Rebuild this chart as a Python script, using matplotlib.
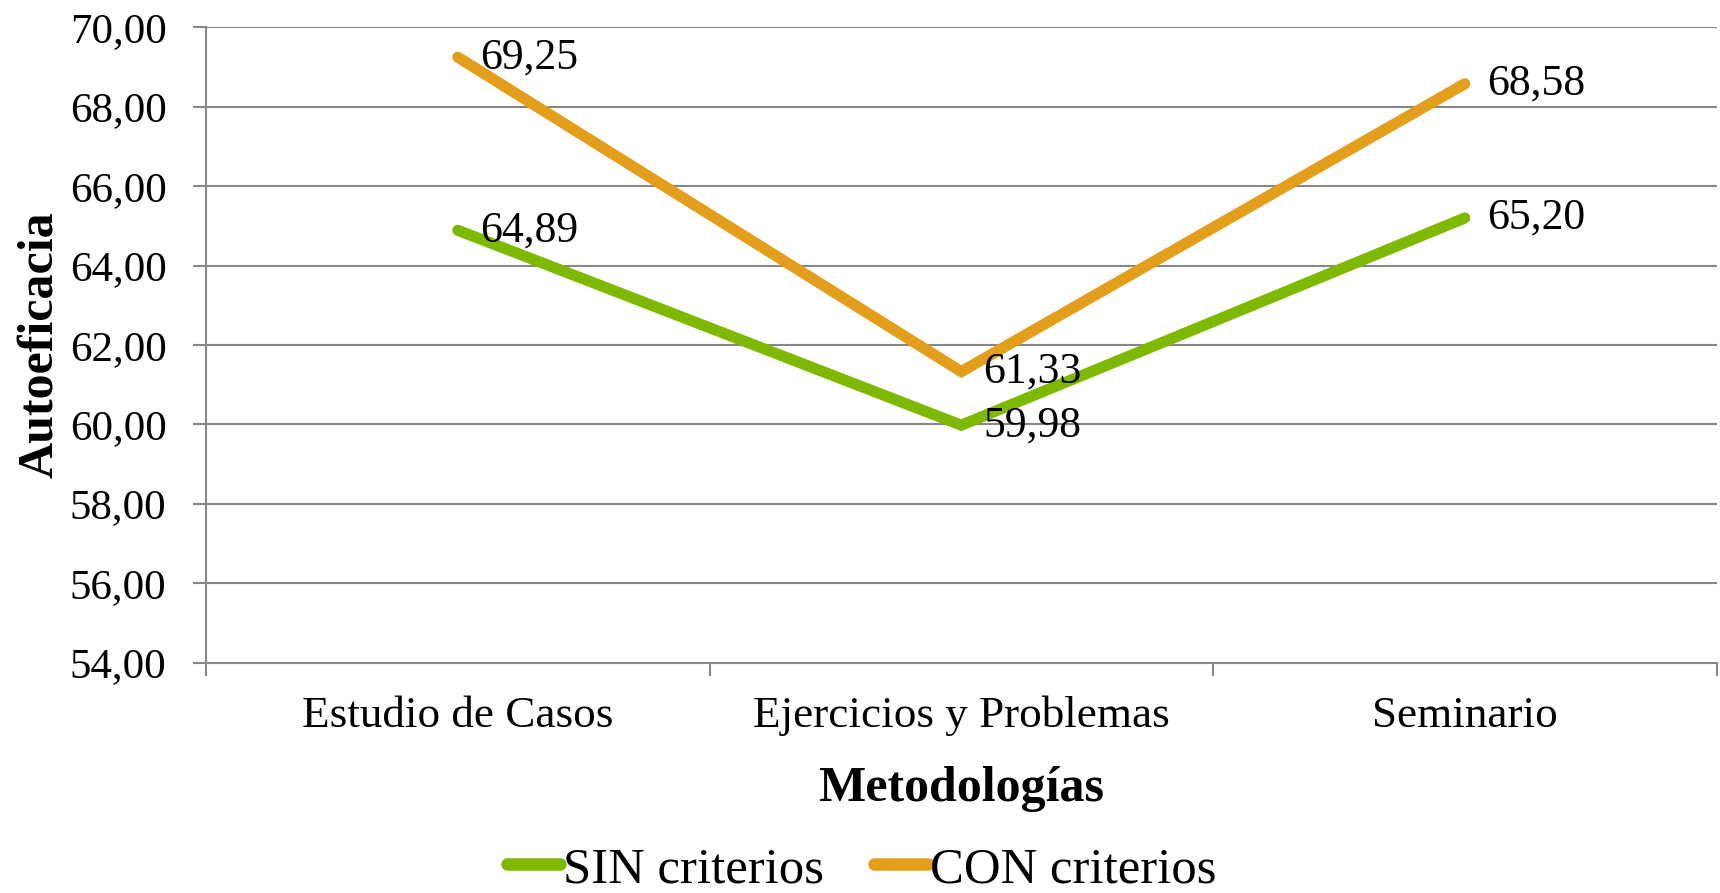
import matplotlib
matplotlib.use("Agg")
import matplotlib.pyplot as plt
from matplotlib.ticker import FixedLocator, NullFormatter, FuncFormatter

metodologias = ["Estudio de Casos", "Ejercicios y Problemas", "Seminario"]
sin_criterios = [64.89, 59.98, 65.20]
con_criterios = [69.25, 61.33, 68.58]
y_ticks = [54, 56, 58, 60, 62, 64, 66, 68, 70]

verde = "#7FB800"
naranja = "#E39E1C"
gris = "#878787"

plt.rcParams["font.family"] = ["Liberation Serif", "DejaVu Serif"]

fig = plt.figure(figsize=(17.2, 8.93), dpi=100)
ax = fig.add_axes([0.1198, 0.258, 0.998 - 0.1198, 0.9693 - 0.258])

x = list(range(len(metodologias)))
ax.plot(x, sin_criterios, color=verde, lw=8, solid_capstyle="round",
        solid_joinstyle="miter", label="SIN criterios", zorder=3)
ax.plot(x, con_criterios, color=naranja, lw=8, solid_capstyle="round",
        solid_joinstyle="miter", label="CON criterios", zorder=3)

def fmt(v):
    return f"{v:.2f}".replace(".", ",")

for serie in (sin_criterios, con_criterios):
    for xi, v in zip(x, serie):
        ax.annotate(fmt(v), (xi, v), xytext=(16, 0), textcoords="offset points",
                    ha="left", va="center", fontsize=31.5, zorder=4)

ax.set_xlim(-0.5, len(metodologias) - 0.5)
ax.set_ylim(y_ticks[0], y_ticks[-1])
ax.set_yticks(y_ticks)
ax.yaxis.set_major_formatter(FuncFormatter(lambda v, p: fmt(v)))
ax.grid(axis="y", color=gris, lw=1.5)
ax.set_axisbelow(True)

# limites de categoria como ticks mayores, nombres en los menores
ax.xaxis.set_major_locator(FixedLocator([i - 0.5 for i in range(len(metodologias) + 1)]))
ax.xaxis.set_major_formatter(NullFormatter())
ax.xaxis.set_minor_locator(FixedLocator(x))
ax.set_xticklabels(metodologias, minor=True, fontsize=32.5)
ax.tick_params(axis="x", which="major", length=9, width=1.5, color=gris, direction="out")
ax.tick_params(axis="x", which="minor", length=0, pad=24)
ax.tick_params(axis="y", length=9.5, width=1.5, color=gris, labelsize=31, pad=19)

for s in ("top", "right"):
    ax.spines[s].set_visible(False)
for s in ("left", "bottom"):
    ax.spines[s].set_color(gris)
    ax.spines[s].set_linewidth(1.5)

ax.set_xlabel("Metodologías", fontsize=36, fontweight="bold", labelpad=21)
ax.set_ylabel("Autoeficacia", fontsize=36, fontweight="bold", va="center")
ax.yaxis.set_label_coords(-0.11, 0.5)

leg = fig.legend(loc="center", bbox_to_anchor=(0.501, 0.026), ncol=2, frameon=False,
                 fontsize=36.5, handlelength=1.05, handletextpad=0.05, columnspacing=1.0,
                 borderpad=0, borderaxespad=0)
for h in leg.legend_handles:
    h.set_solid_capstyle("round")
    h.set_linewidth(9)

fig.savefig("out.png", dpi=100)
